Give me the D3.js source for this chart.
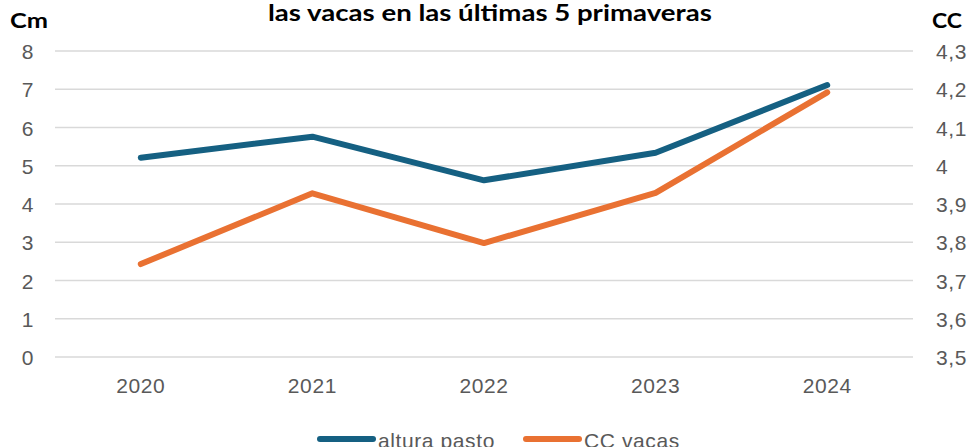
<!DOCTYPE html>
<html>
<head>
<meta charset="utf-8">
<script src="https://cdn.jsdelivr.net/npm/d3@7"></script>
<style>
html,body{margin:0;padding:0;background:#fff;}
svg{display:block;}
</style>
</head>
<body>
<svg id="chart" width="971" height="447"></svg>
<script>
const years = ["2020","2021","2022","2023","2024"];
const alturaPasto = [5.21, 5.76, 4.62, 5.34, 7.11];
const ccVacas = [3.743, 3.928, 3.798, 3.929, 4.192];
const leftTicks = [0,1,2,3,4,5,6,7,8];
const rightTicks = [3.5,3.6,3.7,3.8,3.9,4.0,4.1,4.2,4.3];
const titleText = "las vacas en las últimas 5 primaveras";
const leftTitle = "Cm";
const rightTitle = "CC";
const seriesNames = ["altura pasto","CC vacas"];
const colors = ["#156082","#E97132"];

const svg = d3.select("#chart");
const W = 971, H = 447;
const m = {left:55, right:58, top:51, bottom:90};
const x = d3.scaleBand().domain(years).range([m.left, W - m.right]);
const yL = d3.scaleLinear().domain([0,8]).range([H - m.bottom, m.top]);
const yR = d3.scaleLinear().domain([3.5,4.3]).range([H - m.bottom, m.top]);

// gridlines
svg.append("g").selectAll("line").data(leftTicks).join("line")
  .attr("x1", m.left).attr("x2", W - m.right)
  .attr("y1", d => yL(d)).attr("y2", d => yL(d))
  .attr("stroke", "#d9d9d9").attr("stroke-width", 1.5);

const labelFont = "'Liberation Sans', Arial, sans-serif";
const styleLabels = sel => sel.attr("font-family", labelFont).attr("font-size", 21)
  .attr("fill", "#595959").attr("letter-spacing", 0.6);

// left axis
const gl = svg.append("g").attr("transform", `translate(${m.left - 21},0)`)
  .call(d3.axisLeft(yL).tickValues(leftTicks).tickSize(0).tickPadding(0).tickFormat(d3.format("d")));
gl.select(".domain").remove();
styleLabels(gl.selectAll("text")).attr("dy", "0.36em");

// right axis
const fmtR = d => { const s = d3.format(".1f")(d); return (s.endsWith(".0") ? s.slice(0,-2) : s).replace(".", ","); };
const gr = svg.append("g").attr("transform", `translate(${W - m.right + 23},0)`)
  .call(d3.axisRight(yR).tickValues(rightTicks).tickSize(0).tickPadding(0).tickFormat(fmtR));
gr.select(".domain").remove();
styleLabels(gr.selectAll("text")).attr("dy", "0.36em");

// x axis
const gx = svg.append("g").attr("transform", `translate(0,${H - m.bottom})`)
  .call(d3.axisBottom(x).tickSize(0).tickPadding(21));
gx.select(".domain").remove();
styleLabels(gx.selectAll("text"));

// lines
const lineL = d3.line().x((d,i) => x(years[i]) + x.bandwidth()/2).y(d => yL(d));
const lineR = d3.line().x((d,i) => x(years[i]) + x.bandwidth()/2).y(d => yR(d));
svg.append("path").datum(alturaPasto).attr("d", lineL)
  .attr("fill","none").attr("stroke", colors[0]).attr("stroke-width", 6)
  .attr("stroke-linejoin","round").attr("stroke-linecap","round");
svg.append("path").datum(ccVacas).attr("d", lineR)
  .attr("fill","none").attr("stroke", colors[1]).attr("stroke-width", 6)
  .attr("stroke-linejoin","round").attr("stroke-linecap","round");

// titles, stretched horizontally to the reference widths
const titleFont = "Lato, 'Open Sans', sans-serif";
function stretchText(t, x0, targetW) {
  const w = t.node().getComputedTextLength();
  const k = targetW / w;
  t.attr("x", 0).attr("transform", `translate(${x0},0) scale(${k},1)`);
}
const tt = svg.append("text").attr("y", 21)
  .attr("font-family", titleFont).attr("font-weight", "bold").attr("font-size", 22.5)
  .attr("fill", "#000").text(titleText);
stretchText(tt, 268, 444);
const lt = svg.append("text").attr("y", 28)
  .attr("font-family", titleFont).attr("font-weight", "bold").attr("font-size", 21)
  .attr("fill", "#000").text(leftTitle);
stretchText(lt, 10, 38);
const rt = svg.append("text").attr("y", 28)
  .attr("font-family", titleFont).attr("font-weight", "bold").attr("font-size", 21)
  .attr("fill", "#000").text(rightTitle);
stretchText(rt, 932, 30);

// legend
const legend = svg.append("g");
const legX = [317, 523];
seriesNames.forEach((n, i) => {
  legend.append("line").attr("x1", legX[i] + 3).attr("x2", legX[i] + 56)
    .attr("y1", 439).attr("y2", 439)
    .attr("stroke", colors[i]).attr("stroke-width", 6).attr("stroke-linecap","round");
  styleLabels(legend.append("text").attr("x", legX[i] + 61).attr("y", 448)).text(n);
});
</script>
</body>
</html>
